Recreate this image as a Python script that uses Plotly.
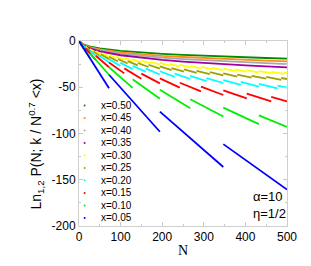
import plotly.graph_objects as go

# ---------------- data ----------------
series_labels = ["x=0.50", "x=0.45", "x=0.40", "x=0.35", "x=0.30",
                 "x=0.25", "x=0.20", "x=0.15", "x=0.10", "x=0.05"]
series_colors = ["#008c00", "#ff8c1a", "#a8a8a8", "#a000a0", "#ffff00",
                 "#a0a000", "#00ffff", "#ff0000", "#00ee00", "#0000ff"]

# smooth-looking curves (high x): value at given N
N_SMOOTH = [0, 10, 25, 50, 100, 150, 200, 250, 300, 350, 400, 450, 500]
Y50 = [0, -3.5, -5.7, -8.0, -10.7, -12.5, -13.9, -15.0, -16.0, -16.9, -17.7, -18.4, -19.1]
Y45 = [0, -3.8, -6.5, -9.1, -12.2, -14.3, -16.0, -17.3, -18.5, -19.5, -20.4, -21.3, -22.0]
Y40 = [0, -4.1, -7.1, -10.0, -13.6, -16.1, -17.9, -19.5, -20.8, -22.0, -23.0, -24.0, -24.9]
Y35 = [0, -4.4, -7.8, -11.2, -15.4, -18.2, -20.4, -22.2, -23.8, -25.1, -26.4, -27.5, -28.5]

# segmented curves: segment start N, value at segment start, value at segment end
N30 = [0, 5.6, 15.0, 26.8, 40.5, 55.7, 72.2, 90.0, 108.9, 128.9, 149.8, 171.7, 194.4,
       217.9, 242.3, 267.4, 293.2, 319.7, 346.9, 374.8, 403.3, 432.4, 462.1, 492.4]
Y30s = [0, -2.8, -5.9, -8.6, -11.0, -13.1, -15.0, -16.7, -18.3, -19.8, -21.2, -22.5, -23.7,
        -24.8, -25.9, -27.0, -28.0, -29.0, -29.9, -30.8, -31.7, -32.5, -33.3, -34.1]
Y30e = [-3.9, -7.6, -10.5, -13.0, -15.1, -17.0, -18.7, -20.3, -21.7, -23.0, -24.3, -25.4, -26.6,
        -27.6, -28.6, -29.6, -30.5, -31.4, -32.3, -33.1, -34.0, -34.7, -35.5, -34.7]

N25 = [0, 7.2, 19.5, 34.8, 52.5, 72.2, 93.7, 116.8, 141.3, 167.2, 194.4, 222.7, 252.2,
       282.8, 314.4, 346.9, 380.4, 414.8, 450.1, 486.3]
Y25s = [0, -3.7, -7.7, -11.2, -14.3, -17.0, -19.5, -21.7, -23.8, -25.7, -27.5, -29.2, -30.7,
        -32.2, -33.7, -35.0, -36.3, -37.6, -38.8, -40.0]
Y25e = [-5.1, -9.8, -13.7, -16.9, -19.6, -22.1, -24.3, -26.3, -28.1, -29.9, -31.5, -33.0, -34.5,
        -35.8, -37.2, -38.4, -39.6, -40.8, -41.9, -41.1]

N20 = [0, 10.0, 26.8, 47.9, 72.2, 99.3, 128.9, 160.6, 194.4, 230.0, 267.4, 306.4, 346.9,
       388.9, 432.4, 477.2]
Y20s = [0, -5.0, -10.5, -15.4, -19.6, -23.4, -26.8, -29.9, -32.7, -35.3, -37.8, -40.1, -42.3,
        -44.3, -46.3, -48.2]
Y20e = [-7.1, -13.5, -18.8, -23.2, -27.0, -30.4, -33.4, -36.2, -38.7, -41.1, -43.3, -45.4, -47.4,
        -49.3, -51.1, -50.5]

N15 = [0, 15.0, 40.5, 72.2, 108.9, 149.8, 194.4, 242.3, 293.2, 346.9, 403.3, 462.1]
Y15s = [0, -7.6, -15.9, -23.2, -29.6, -35.3, -40.4, -45.1, -49.3, -53.3, -57.0, -60.5]
Y15e = [-10.6, -20.4, -28.4, -35.0, -40.7, -45.8, -50.4, -54.5, -58.4, -62.0, -65.3, -65.4]

N10 = [0, 26.8, 72.2, 128.9, 194.4, 267.4, 346.9, 432.4]
Y10s = [0, -13.5, -28.4, -41.4, -52.8, -63.0, -72.1, -80.4]
Y10e = [-19.0, -36.5, -50.6, -62.5, -72.7, -81.7, -89.9, -93.0]

N05 = [0, 72.2, 194.4, 346.9]
Y05s = [0, -36.5, -76.3, -111.5]
Y05e = [-51.0, -98.1, -136.2, -160.6]

N_MAX = 500

x_ticks = [0, 100, 200, 300, 400, 500]
y_ticks = [-200, -150, -100, -50, 0]
y_tick_text = ["-200", "-150", "-100", "-50", "0"]

# ---------------- build ----------------
def segments(starts, ys, ye):
    xs, yy = [], []
    for i, n0 in enumerate(starts):
        n1 = starts[i + 1] if i + 1 < len(starts) else N_MAX
        xs += [n0, n1, None]
        yy += [ys[i], ye[i], None]
    return xs, yy

curves = [
    (N_SMOOTH, Y50), (N_SMOOTH, Y45), (N_SMOOTH, Y40), (N_SMOOTH, Y35),
    segments(N30, Y30s, Y30e), segments(N25, Y25s, Y25e), segments(N20, Y20s, Y20e),
    segments(N15, Y15s, Y15e), segments(N10, Y10s, Y10e), segments(N05, Y05s, Y05e),
]

fig = go.Figure()
for (xs, ys), lab, col in zip(curves, series_labels, series_colors):
    fig.add_trace(go.Scatter(x=xs, y=ys, mode="lines", name=lab,
                             line=dict(color=col, width=1.8),
                             connectgaps=False, showlegend=False))

FONT = "Liberation Sans, Arial, sans-serif"
axis_common = dict(showgrid=False, zeroline=False, showline=True, linecolor="#cfcfcf",
                   linewidth=1, mirror="allticks", ticks="inside", ticklen=4,
                   tickcolor="#c8c8c8", tickfont=dict(family=FONT, size=12, color="black"))

fig.update_xaxes(range=[0, 500], tickvals=x_ticks, **axis_common,
                 minor=dict(tickvals=[50, 150, 250, 350, 450], ticks="inside",
                            ticklen=2, tickcolor="#c8c8c8"))
fig.update_yaxes(range=[-200, 0], tickvals=y_ticks, ticktext=y_tick_text, **axis_common,
                 minor=dict(tickvals=[-175, -125, -75, -25], ticks="inside",
                            ticklen=2, tickcolor="#c8c8c8"))

annotations = []
shapes = []
# manual legend
leg_y0 = 0.652
leg_dy = 0.0676
for i, (lab, col) in enumerate(zip(series_labels, series_colors)):
    yy = leg_y0 - i * leg_dy
    annotations.append(dict(xref="paper", yref="paper", x=0.097, y=yy, text=lab,
                            showarrow=False, xanchor="left", yanchor="middle",
                            font=dict(family=FONT, size=10, color="black")))
    shapes.append(dict(type="circle", xref="paper", yref="paper",
                       xsizemode="pixel", ysizemode="pixel",
                       xanchor=0.027, yanchor=yy, x0=-1, x1=1, y0=-1, y1=1,
                       fillcolor=col, line=dict(width=0)))

annotations += [
    dict(xref="paper", yref="paper", x=-0.207, y=0.445, textangle=-90,
         text="Ln<sub>1,2</sub> P(N; k / N<sup>0.7</sup> &lt;x)", showarrow=False,
         xanchor="center", yanchor="middle", font=dict(family=FONT, size=14, color="black")),
    dict(xref="paper", yref="paper", x=0.5, y=-0.13, text="N", showarrow=False,
         xanchor="center", yanchor="middle",
         font=dict(family="Liberation Serif, Times New Roman, serif", size=14, color="black")),
    dict(xref="paper", yref="paper", x=0.827, y=0.162, text="α=10", showarrow=False,
         xanchor="left", yanchor="middle", font=dict(family=FONT, size=13, color="black")),
    dict(xref="paper", yref="paper", x=0.827, y=0.070, text="η=1/2", showarrow=False,
         xanchor="left", yanchor="middle", font=dict(family=FONT, size=13, color="black")),
]

fig.update_layout(width=311, height=266, margin=dict(l=71, r=32, t=33, b=48),
                  paper_bgcolor="white", plot_bgcolor="white",
                  annotations=annotations, shapes=shapes, showlegend=False)

fig.write_html("out.html")
